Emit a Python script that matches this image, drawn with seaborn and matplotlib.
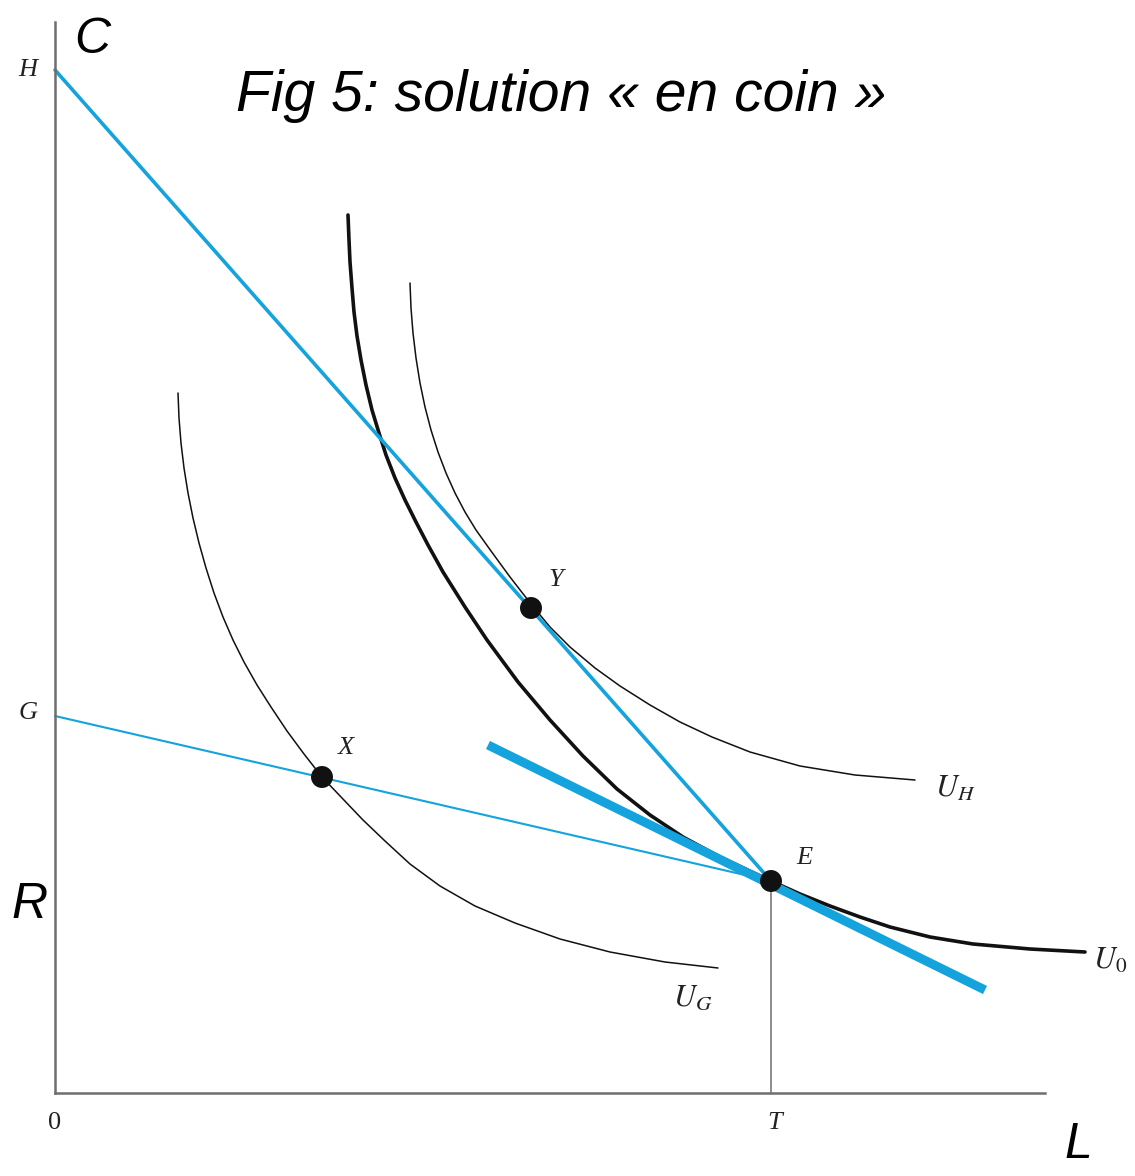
import matplotlib
matplotlib.use("Agg")
import matplotlib.pyplot as plt
import seaborn as sns
import pandas as pd

# Courbes d'indifférence : L en abscisse, C en ordonnée
u0_L = [293, 294, 295, 297, 299, 302, 306, 311, 317, 324, 331, 340, 350, 361, 373,
        388, 410, 432, 463, 495, 528, 562, 595, 628, 665, 716, 745, 775, 805, 835,
        875, 918, 975, 1030]
u0_C = [878, 853, 831, 805, 781, 757, 733, 708, 683, 660, 638, 615, 593, 571, 548,
        521, 486, 453, 411, 373, 337, 304, 278, 256, 236, 212, 199, 187, 176, 166,
        156, 149, 144, 141]

uh_L = [355, 356, 358, 361, 365, 370, 376, 383, 391, 400, 410, 421, 436, 455,
        476, 495, 515, 540, 565, 595, 625, 657, 695, 745, 800, 860]
uh_C = [810, 785, 760, 735, 710, 686, 663, 641, 620, 600, 581, 563, 542, 516,
        489, 466, 446, 425, 407, 388, 371, 356, 341, 327, 318, 313]

ug_L = [123, 124, 126, 129, 133, 138, 144, 151, 159, 168, 178, 189, 202, 216,
        232, 249, 267, 287, 308, 330, 355, 385, 420, 460, 505, 555, 610, 663]
ug_C = [700, 675, 650, 625, 600, 575, 550, 525, 500, 476, 453, 431, 408, 386,
        362, 339, 316, 295, 273, 252, 229, 207, 187, 170, 154, 141, 131, 125]

# Droites de budget
budget_H_L = [0, 716]
budget_H_C = [1023, 212]
budget_G_L = [0, 716]
budget_G_C = [377, 212]
tangent_L = [433, 930]
tangent_C = [348, 103]
T_L = [716, 716]
T_C = [0, 212]

# Points remarquables
pts_name = ["X", "Y", "E"]
pts_L = [267, 476, 716]
pts_C = [316, 485, 212]

BLUE = "#14a3dc"
GREY = "#6e6e6e"

sns.set_style("white")
plt.rcParams["mathtext.fontset"] = "stix"

fig = plt.figure(figsize=(11.35, 11.76), dpi=100)
ax = fig.add_axes([55 / 1135, 83 / 1176, 990 / 1135, 1071 / 1176])
ax.set_xlim(0, 990)
ax.set_ylim(0, 1071)


def line(xs, ys, color, lw, **kw):
    df = pd.DataFrame({"L": xs, "C": ys})
    sns.lineplot(data=df, x="L", y="C", sort=False, estimator=None,
                 color=color, linewidth=lw, ax=ax, clip_on=False, **kw)


line(ug_L, ug_C, "#111111", 1.1)
line(uh_L, uh_C, "#111111", 1.1)
line(u0_L, u0_C, "#111111", 2.6)
line(T_L, T_C, GREY, 1.1)
line(budget_H_L, budget_H_C, BLUE, 2.6)
line(budget_G_L, budget_G_C, BLUE, 1.5)
line(tangent_L, tangent_C, BLUE, 6.5, solid_capstyle="butt")

sns.scatterplot(x=pts_L, y=pts_C, color="#111111", s=250, edgecolor="none",
                zorder=5, ax=ax)

for s in ["top", "right"]:
    ax.spines[s].set_visible(False)
for s in ["left", "bottom"]:
    ax.spines[s].set_color(GREY)
    ax.spines[s].set_linewidth(1.8)
ax.set_xticks([])
ax.set_yticks([])
ax.set_xlabel("")
ax.set_ylabel("")

serif = dict(family="Liberation Serif", style="italic", fontsize=19, color="#222222")
ax.text(-27, 1023, "H", ha="center", va="center", clip_on=False, **serif)
ax.text(-27, 380, "G", ha="center", va="center", clip_on=False, **serif)
ax.text(0, -30, "0", ha="center", va="center", clip_on=False,
        family="Liberation Serif", fontsize=19, color="#222222")
ax.text(720, -30, "T", ha="center", va="center", clip_on=False, **serif)
ax.text(291, 345, "X", ha="center", va="center", **serif)
ax.text(501, 513, "Y", ha="center", va="center", **serif)
ax.text(749, 235, "E", ha="center", va="center", **serif)

ax.text(900, 305, r"$U_H$", ha="center", va="center", fontsize=22, color="#222222")
ax.text(638, 95, r"$U_G$", ha="center", va="center", fontsize=22, color="#222222")
ax.text(1055, 133, r"$U_0$", ha="center", va="center", fontsize=22,
        color="#222222", clip_on=False)

big = dict(family="Liberation Sans", style="italic", fontsize=36, color="black")
ax.text(37, 1053, "C", ha="center", va="center", clip_on=False, **big)
ax.text(-25, 188, "R", ha="center", va="center", clip_on=False, **big)
ax.text(1023, -52, "L", ha="center", va="center", clip_on=False, **big)
ax.text(506, 997, "Fig 5: solution « en coin »", ha="center", va="center",
        clip_on=False, **dict(big, fontsize=41))

fig.savefig("out.png", dpi=100, facecolor="white")
